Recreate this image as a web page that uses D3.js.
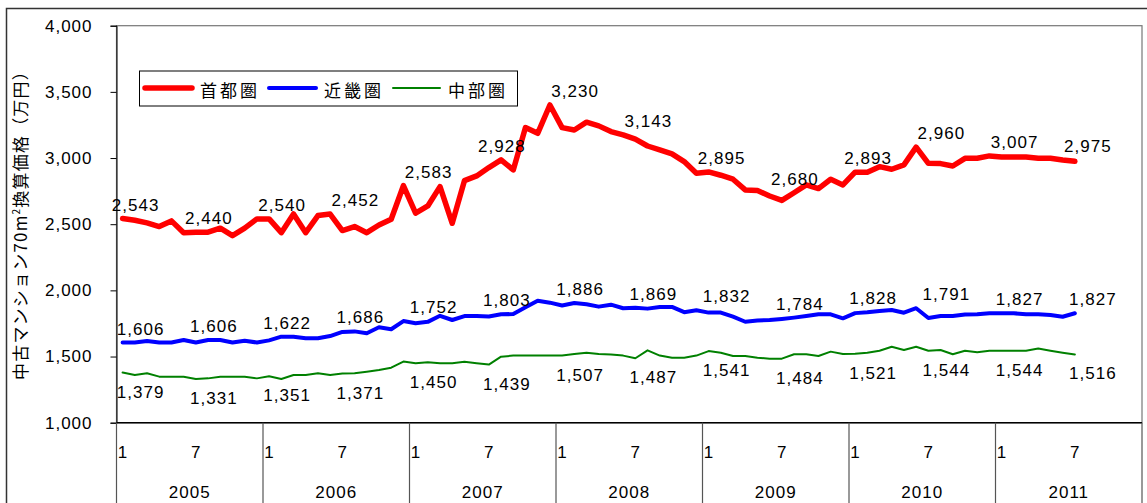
<!DOCTYPE html>
<html>
<head>
<meta charset="utf-8">
<script src="https://cdn.jsdelivr.net/npm/d3@7"></script>
<style>
  body { margin: 0; background: #fff; }
  svg text { font-family: "Liberation Sans", Arial, sans-serif; fill: #000; }
  .jp { font-family: "Noto Sans CJK JP", "Noto Sans", sans-serif; }
</style>
</head>
<body>
<div id="chart"></div>
<script>
// Data //
const years = [2005, 2006, 2007, 2008, 2009, 2010, 2011];
const monthTicks = [1, 7];
const yTicks = [1000, 1500, 2000, 2500, 3000, 3500, 4000];
const yTitle = ["中古マンション70m", "2", "換算価格（万円）"];

// 首都圏 (Jan 2005 - Jul 2011)
const shutoken = [2543, 2530, 2510, 2482, 2525, 2436, 2440, 2440, 2470, 2413, 2470, 2540,
  2540, 2436, 2577, 2436, 2565, 2577, 2452, 2482, 2436, 2494, 2537, 2791,
  2583, 2638, 2784, 2507, 2829, 2865, 2928, 2986, 2910, 3230, 3187, 3401,
  3230, 3212, 3271, 3243, 3200, 3175, 3143, 3091, 3061, 3031, 2973, 2885,
  2895, 2870, 2840, 2759, 2754, 2713, 2680, 2738, 2797, 2769, 2840, 2797,
  2893, 2893, 2935, 2915, 2948, 3082, 2960, 2958, 2940, 2998, 2998, 3016,
  3007, 3007, 3007, 2998, 2998, 2985, 2975];
// 近畿圏
const kinkiken = [1606, 1606, 1617, 1606, 1606, 1625, 1606, 1625, 1625, 1606, 1620, 1606,
  1622, 1650, 1650, 1638, 1638, 1655, 1686, 1690, 1676, 1721, 1706, 1768,
  1752, 1762, 1808, 1776, 1806, 1806, 1803, 1819, 1821, 1872, 1922, 1907,
  1886, 1905, 1895, 1877, 1892, 1865, 1869, 1862, 1875, 1875, 1835, 1850,
  1832, 1832, 1801, 1763, 1772, 1776, 1784, 1794, 1806, 1819, 1819, 1789,
  1828, 1834, 1844, 1852, 1831, 1865, 1791, 1806, 1806, 1817, 1819, 1827,
  1827, 1827, 1819, 1819, 1814, 1801, 1827];
// 中部圏
const chubuken = [1379, 1360, 1373, 1348, 1348, 1348, 1331, 1335, 1348, 1348, 1348, 1335,
  1351, 1330, 1360, 1360, 1373, 1360, 1371, 1373, 1385, 1398, 1416, 1462,
  1450, 1457, 1450, 1449, 1461, 1449, 1439, 1499, 1507, 1507, 1507, 1507,
  1507, 1519, 1529, 1519, 1516, 1507, 1487, 1547, 1507, 1491, 1491, 1507,
  1541, 1529, 1504, 1504, 1491, 1484, 1484, 1517, 1517, 1504, 1537, 1519,
  1521, 1529, 1544, 1574, 1549, 1574, 1544, 1549, 1517, 1544, 1532, 1544,
  1544, 1544, 1544, 1560, 1544, 1529, 1516];

const seriesNames = ["首都圏", "近畿圏", "中部圏"];
const seriesColors = ["#ff0000", "#0000ff", "#008000"];
const seriesWidths = [5.5, 4, 2];

// every category: year x month
const categories = years.flatMap(y => d3.range(1, 13).map(m => ({ year: y, month: m })));
const series = [shutoken, kinkiken, chubuken].map((values, i) => ({
    name: seriesNames[i], values, color: seriesColors[i], width: seriesWidths[i]
}));

/* Canvas */
const W = 1147, H = 503;
const plot = { left: 116.5, right: 1142, top: 25.7, bottom: 422.7 };

const svg = d3.select("#chart").append("svg")
    .attr("width", W).attr("height", H);

// outer chart frame
svg.append("path")
    .attr("d", `M6.5,${H} V8.5 H${W}`)
    .attr("fill", "none").attr("stroke", "#333").attr("stroke-width", 1.5);

const xScale = d3.scaleBand()
    .domain(d3.range(categories.length))
    .range([plot.left, plot.right])
    .padding(0);
const xc = i => xScale(i) + xScale.bandwidth() / 2;

const yScale = d3.scaleLinear()
    .domain([1000, 4000])
    .range([plot.bottom, plot.top]);

// plot area border
svg.append("rect")
    .attr("x", plot.left).attr("y", plot.top)
    .attr("width", plot.right - plot.left).attr("height", plot.bottom - plot.top)
    .attr("fill", "none").attr("stroke", "#777").attr("stroke-width", 1.2);

/* Vertical axis */
svg.append("g")
    .attr("transform", `translate(${plot.left},0)`)
    .call(d3.axisLeft(yScale).tickValues(yTicks).tickSize(6).tickPadding(18).tickFormat(d3.format(",")))
    .call(g => g.select(".domain").attr("stroke", "#000"))
    .call(g => g.selectAll(".tick line").attr("stroke", "#000"))
    .selectAll("text")
    .attr("font-family", "Liberation Sans, Arial, sans-serif")
    .attr("font-size", "17px")
    .attr("letter-spacing", "1px")
    .attr("fill", "#000");

// y title
const yt = svg.append("text")
    .attr("class", "jp")
    .attr("transform", `translate(27,221) rotate(-90)`)
    .attr("text-anchor", "middle")
    .attr("font-size", "17px")
    .attr("letter-spacing", "1.2px");
yt.append("tspan").text(yTitle[0]);
yt.append("tspan").attr("font-size", "10px").attr("dy", -7).text(yTitle[1]);
yt.append("tspan").attr("dy", 7).text(yTitle[2]);

/* Horizontal axis */
svg.append("line")
    .attr("x1", plot.left).attr("x2", plot.right)
    .attr("y1", plot.bottom).attr("y2", plot.bottom)
    .attr("stroke", "#000").attr("stroke-width", 1.5);

// year separators
const yearStarts = categories.map((c, i) => i).filter(i => categories[i].month === 1);
svg.selectAll(".year-sep")
    .data(yearStarts.concat([categories.length]))
    .join("line")
    .attr("class", "year-sep")
    .attr("x1", d => d === categories.length ? plot.right : xScale(d))
    .attr("x2", d => d === categories.length ? plot.right : xScale(d))
    .attr("y1", plot.bottom).attr("y2", H)
    .attr("stroke", "#555").attr("stroke-width", 1.2);

svg.selectAll(".month-label")
    .data(categories.map((c, i) => ({ ...c, i })).filter(c => monthTicks.includes(c.month)))
    .join("text")
    .attr("class", "month-label")
    .attr("x", d => xc(d.i))
    .attr("y", 458)
    .attr("text-anchor", "middle")
    .attr("font-size", "17px")
    .text(d => d.month);

svg.selectAll(".year-label")
    .data(years)
    .join("text")
    .attr("class", "year-label")
    .attr("x", (d, k) => xScale(yearStarts[k]) + xScale.bandwidth() * 6)
    .attr("y", 498)
    .attr("text-anchor", "middle")
    .attr("font-size", "17px")
    .attr("letter-spacing", "1px")
    .text(d => d);

/* Lines */
const line = d3.line()
    .x((d, i) => xc(i))
    .y(d => yScale(d));

svg.selectAll(".series")
    .data(series)
    .join("path")
    .attr("class", "series")
    .attr("d", d => line(d.values))
    .attr("fill", "none")
    .attr("stroke", d => d.color)
    .attr("stroke-width", d => d.width)
    .attr("stroke-linejoin", "round")
    .attr("stroke-linecap", "round");

/* Data labels (every 6 months) */
const labelIdx = d3.range(0, shutoken.length, 6);
// red / blue labels sit above the local peak, green below the point
const nearMax = (vals, i) => d3.max(vals.slice(Math.max(0, i - 1), i + 2));
const labelY = [
    (vals, i) => yScale(nearMax(vals, i)) - 8,
    (vals, i) => yScale(nearMax(vals, i)) - 8,
    (vals, i) => yScale(vals[i]) + 25
];
const labelDx = [13, 18, 18];
series.forEach((s, k) => {
    svg.selectAll(`.dlabel-${k}`)
        .data(labelIdx)
        .join("text")
        .attr("class", `dlabel-${k}`)
        .attr("x", i => xc(i) + labelDx[k])
        .attr("y", i => labelY[k](s.values, i))
        .attr("text-anchor", "middle")
        .attr("font-size", "17px")
        .attr("letter-spacing", "1px")
        .text(i => d3.format(",")(s.values[i]));
});

/* Legend */
const legend = svg.append("g");
legend.append("rect")
    .attr("x", 139.5).attr("y", 71)
    .attr("width", 378).attr("height", 35)
    .attr("fill", "#fff").attr("stroke", "#000").attr("stroke-width", 1);

const item = legend.selectAll(".item")
    .data(series)
    .join("g")
    .attr("class", "item")
    .attr("transform", (d, i) => `translate(${145 + i * 124},88)`);
item.append("line")
    .attr("x1", 0).attr("x2", 47)
    .attr("stroke", d => d.color)
    .attr("stroke-width", d => d.width)
    .attr("stroke-linecap", "round");
item.append("text")
    .attr("class", "jp")
    .attr("x", 55)
    .attr("y", 1)
    .attr("dominant-baseline", "central")
    .attr("font-size", "17px")
    .attr("letter-spacing", "3px")
    .text(d => d.name);
</script>
</body>
</html>
